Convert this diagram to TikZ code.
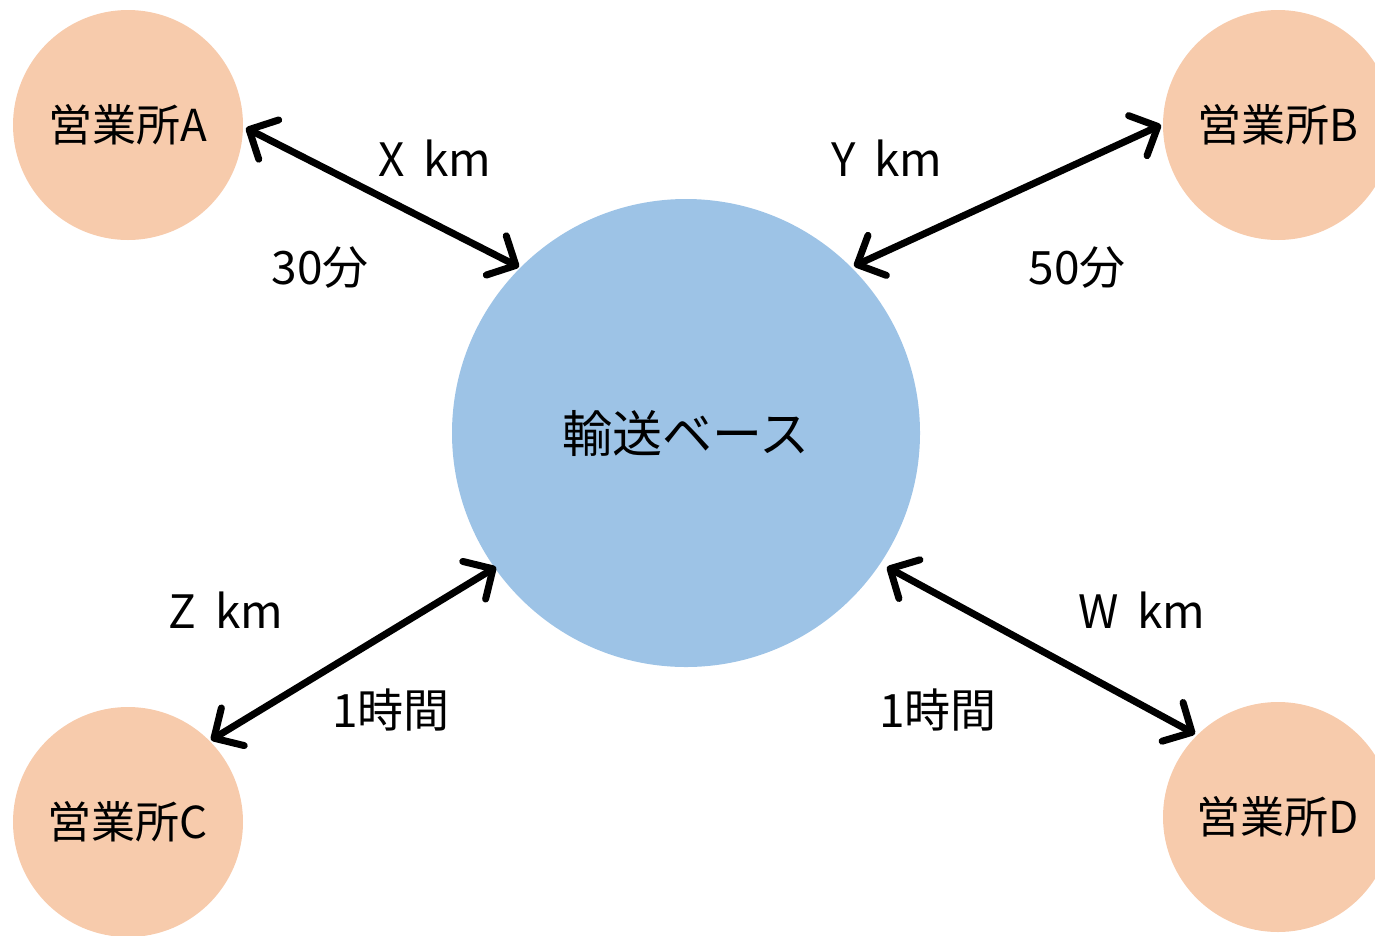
\documentclass[tikz,border=0pt]{standalone}
\usepackage{fontspec}
\setmainfont{Noto Sans CJK JP}
\usetikzlibrary{arrows.meta}
\definecolor{peach}{HTML}{F7CBAC}
\definecolor{sky}{HTML}{9DC3E6}
\tikzset{
  office/.style={circle, fill=peach, minimum size=230pt, inner sep=0pt, font=\fontsize{44}{50}\selectfont},
  base/.style={circle, fill=sky, minimum size=468pt, inner sep=0pt, font=\fontsize{50}{56}\selectfont},
  tipb/.tip={Straight Barb[length=22pt,width=44pt,round]},
  link/.style={line width=7pt, tipb-tipb},
  lbl/.style={font=\fontsize{46}{52}\selectfont, inner sep=0pt}
}
\newcommand{\gap}{\hspace{0.4em}}
\begin{document}
\begin{tikzpicture}[x=1pt,y=-1pt]
\useasboundingbox (0,0) rectangle (1375,935);
\node[base] (base) at (686,433) {輸送ベース};
\node[office] (A) at (128,125) {営業所A};
\node[office] (B) at (1278,125) {営業所B};
\node[office] (C) at (128,822) {営業所C};
\node[office] (D) at (1278,817) {営業所D};
\coordinate (a1) at (246,128);
\coordinate (a2) at (519,267);
\coordinate (b1) at (1161,125);
\coordinate (b2) at (854,266);
\coordinate (c1) at (211,740);
\coordinate (c2) at (496,567);
\coordinate (d1) at (887,567);
\coordinate (d2) at (1195,734);
\draw[link] (a1) -- (a2);
\draw[link] (b1) -- (b2);
\draw[link] (c1) -- (c2);
\draw[link] (d1) -- (d2);
\node[lbl] (xa) at (435,158) {X\gap km};
\node[lbl] (ta) at (320,268) {30分};
\node[lbl] (xb) at (887,158) {Y\gap km};
\node[lbl] (tb) at (1077,268) {50分};
\node[lbl] (xc) at (226,610) {Z\gap km};
\node[lbl] (tc) at (391,710) {1時間};
\node[lbl] (xd) at (1142,610) {W\gap km};
\node[lbl] (td) at (938,710) {1時間};
\end{tikzpicture}
\end{document}
